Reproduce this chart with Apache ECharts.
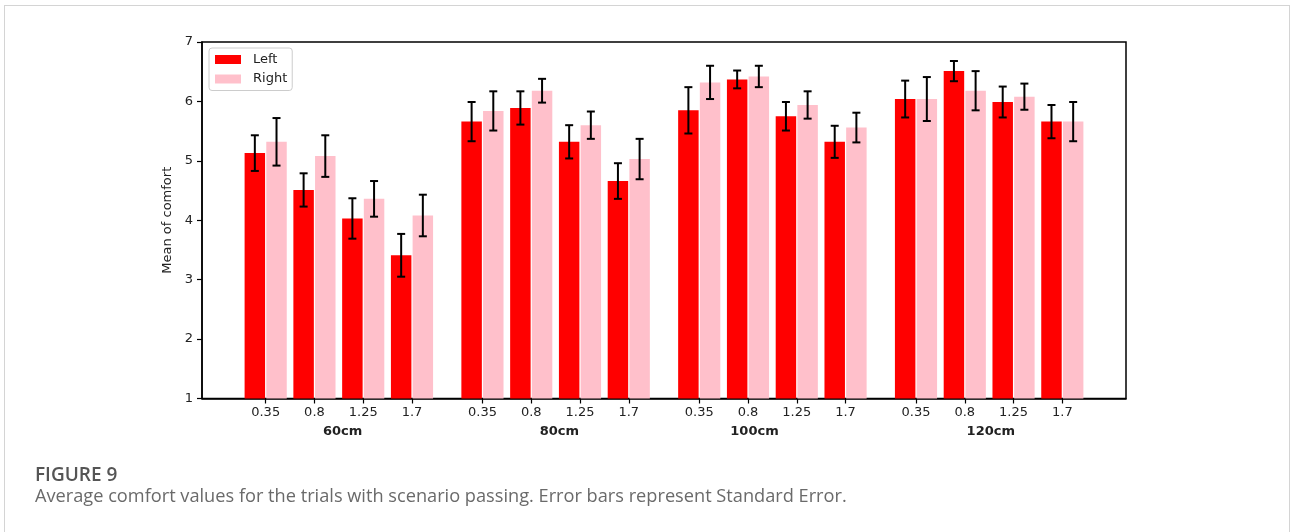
<!DOCTYPE html>
<html>
<head>
<meta charset="utf-8">
<script src="https://cdn.jsdelivr.net/npm/echarts@6/dist/echarts.min.js"></script>
<style>
html,body{margin:0;padding:0;background:#fff;}
#frame{position:absolute;left:4px;top:5px;width:1284px;height:600px;border:1px solid #d4d4d4;border-bottom:none;}
#chart{position:absolute;left:0;top:0;width:1290px;height:532px;}
</style>
</head>
<body>
<div id="frame"></div>
<div id="chart"></div>
<script>
// ---- data ----
const groups = ['60cm', '80cm', '100cm', '120cm'];
const levels = ['0.35', '0.8', '1.25', '1.7'];
const leftMean  = [5.13, 4.51, 4.03, 3.41,  5.66, 5.89, 5.32, 4.66,  5.85, 6.37, 5.75, 5.32,  6.04, 6.51, 5.99, 5.66];
const leftSE    = [0.30, 0.28, 0.34, 0.36,  0.33, 0.28, 0.28, 0.30,  0.39, 0.15, 0.24, 0.27,  0.31, 0.17, 0.26, 0.28];
const rightMean = [5.32, 5.08, 4.36, 4.08,  5.84, 6.18, 5.60, 5.03,  6.32, 6.42, 5.94, 5.56,  6.04, 6.18, 6.08, 5.66];
const rightSE   = [0.40, 0.35, 0.30, 0.35,  0.33, 0.20, 0.23, 0.34,  0.28, 0.18, 0.23, 0.25,  0.37, 0.33, 0.22, 0.33];
const yTicks = [1, 2, 3, 4, 5, 6, 7];
const seriesNames = ['Left', 'Right'];
const captionTitle = 'FIGURE 9';
const captionText = 'Average comfort values for the trials with scenario passing. Error bars represent Standard Error.';
const yName = 'Mean of comfort';

// ---- layout (positions on the x scale) ----
const groupOffset = 2;
const barW = 0.2;
const tickPos = [], tickText = [];
groups.forEach((g, gi) => levels.forEach(l => { tickPos.push(+(parseFloat(l) + gi * groupOffset).toFixed(4)); tickText.push(l); }));
const groupLabelPos = [1.06, 3.06, 4.86, 7.04];

function findLabel(v, pos, txt) {
  for (let i = 0; i < pos.length; i++) if (Math.abs(pos[i] - v) < 1e-6) return txt[i];
  return '';
}

const leftData = tickPos.map((p, i) => [+(p - barW / 2).toFixed(4), leftMean[i], leftSE[i]]);
const rightData = tickPos.map((p, i) => [+(p + barW / 2).toFixed(4), rightMean[i], rightSE[i]]);

function makeRender(color) {
  return function (params, api) {
    const x = api.value(0), m = api.value(1), se = api.value(2);
    const top = api.coord([x, m]);
    const base = api.coord([x, 1]);
    const w = api.size([barW, 0])[0];
    const hi = api.coord([x, m + se]);
    const lo = api.coord([x, m - se]);
    const cap = 4;
    return {
      type: 'group',
      children: [
        { type: 'rect', shape: { x: top[0] - w / 2 + 0.6, y: top[1], width: w - 1.2, height: base[1] - top[1] },
          style: { fill: color } },
        { type: 'line', shape: { x1: hi[0], y1: hi[1], x2: lo[0], y2: lo[1] }, style: { stroke: '#000', lineWidth: 2 } },
        { type: 'line', shape: { x1: hi[0] - cap, y1: hi[1], x2: hi[0] + cap, y2: hi[1] }, style: { stroke: '#000', lineWidth: 2 } },
        { type: 'line', shape: { x1: lo[0] - cap, y1: lo[1], x2: lo[0] + cap, y2: lo[1] }, style: { stroke: '#000', lineWidth: 2 } }
      ]
    };
  };
}

const chart = echarts.init(document.getElementById('chart'), null, { renderer: 'canvas' });
const font = 'DejaVu Sans';
const option = {
  animation: false,
  backgroundColor: 'transparent',
  grid: { left: 202, top: 42, width: 924, height: 356.5, show: true, borderColor: '#000', borderWidth: 1.5, backgroundColor: 'transparent' },
  legend: {
    data: seriesNames,
    orient: 'vertical', left: 209, top: 48,
    itemWidth: 26, itemHeight: 9, itemGap: 6.5,
    icon: 'rect',
    padding: [5, 5, 5, 6],
    borderColor: '#cccccc', borderWidth: 1, borderRadius: 3, backgroundColor: '#fff',
    textStyle: { fontFamily: font, fontSize: 13, color: '#222', padding: [0, 0, 0, 7] }
  },
  xAxis: [
    {
      type: 'value', min: -0.2375, max: 8.2875,
      axisLine: { show: true, onZero: false, lineStyle: { color: '#000', width: 1.5 } },
      axisTick: { show: true, length: 5, inside: false, customValues: tickPos, lineStyle: { color: '#000', width: 1.2 } },
      axisLabel: { customValues: tickPos, margin: 8, fontFamily: font, fontSize: 13, color: '#222',
        formatter: v => findLabel(v, tickPos, tickText) },
      splitLine: { show: false }
    },
    {
      type: 'value', min: -0.2375, max: 8.2875, position: 'bottom',
      axisLine: { show: false, onZero: false }, axisTick: { show: false }, splitLine: { show: false },
      axisLabel: { customValues: groupLabelPos, margin: 27, fontFamily: font, fontSize: 13, fontWeight: 'bold', color: '#222',
        formatter: v => findLabel(v, groupLabelPos, groups) }
    }
  ],
  yAxis: {
    type: 'value', min: 1, max: 7, interval: 1,
    name: yName, nameLocation: 'middle', nameGap: 24, nameRotate: 90,
    nameTextStyle: { fontFamily: font, fontSize: 13, color: '#222' },
    axisLine: { show: true, onZero: false, lineStyle: { color: '#000', width: 1.5 } },
    axisTick: { show: true, length: 5, lineStyle: { color: '#000', width: 1.2 } },
    axisLabel: { margin: 9, fontFamily: font, fontSize: 13, color: '#222',
      formatter: v => (yTicks.indexOf(v) >= 0 ? String(v) : '') },
    splitLine: { show: false }
  },
  series: [
    { name: seriesNames[0], type: 'custom', xAxisIndex: 0, itemStyle: { color: '#ff0000' },
      renderItem: makeRender('#ff0000'), encode: { x: 0, y: 1 }, data: leftData, z: 2 },
    { name: seriesNames[1], type: 'custom', xAxisIndex: 0, itemStyle: { color: '#ffc0cb' },
      renderItem: makeRender('#ffc0cb'), encode: { x: 0, y: 1 }, data: rightData, z: 2 }
  ],
  graphic: [
    { type: 'text', left: 35, top: 466, style: { text: captionTitle, font: '600 19px "Open Sans"', fill: '#555' } },
    { type: 'text', left: 35, top: 488, style: { text: captionText, font: '18.2px "Open Sans"', fill: '#6a6a6a' } }
  ]
};
chart.setOption(option);
</script>
</body>
</html>
